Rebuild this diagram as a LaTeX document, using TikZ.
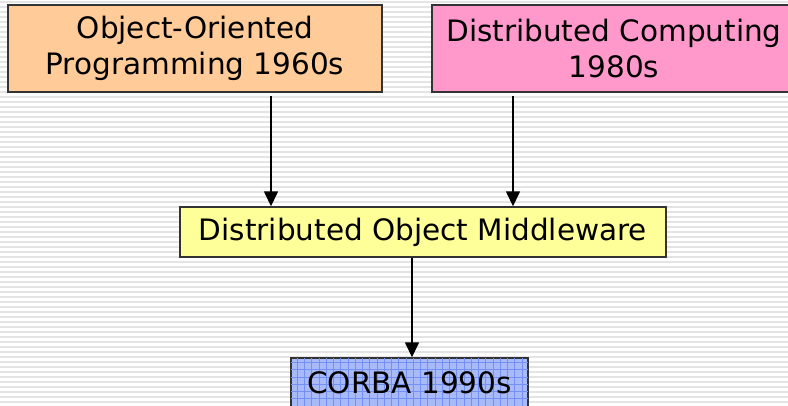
\documentclass[tikz,border=0pt]{standalone}
\usepackage{fontspec}
\setmainfont{DejaVu Sans}
\usetikzlibrary{arrows.meta}
\definecolor{stripegray}{HTML}{E4E4E4}
\definecolor{oopfill}{HTML}{FFCC99}
\definecolor{dcfill}{HTML}{FF99CC}
\definecolor{domfill}{HTML}{FFFF99}
\definecolor{corbafill}{HTML}{A8BAF8}
\definecolor{corbagrid}{HTML}{7390F2}
\definecolor{boxline}{HTML}{333333}
\tikzset{
  boxtext/.style={font=\fontsize{29.5}{36}\selectfont, text=black},
  box/.style={draw=boxline, line width=1.4pt, inner sep=0pt, align=center, boxtext},
  link/.style={line width=1.5pt, -{Triangle[width=14pt,length=15pt]}},
}
\begin{document}
\begin{tikzpicture}[x=1pt,y=-1pt]
  \useasboundingbox (0,0) rectangle (788,406);
  \clip (0,0) rectangle (788,406);
  % striped backdrop
  \fill[white] (0,0) rectangle (788,406);
  \foreach \y in {0,5,...,405}
    \fill[stripegray] (0,\y+1) rectangle (788,\y+3);

  % boxes
  \node[box, fill=oopfill, minimum width=374pt, minimum height=87pt]
    (oop) at (195,48.5) {Object-Oriented\\Programming 1960s};
  \node[box, fill=dcfill, minimum width=364pt, minimum height=87pt]
    (dc) at (614,48.5) {Distributed Computing\\1980s};
  \node[box, fill=domfill, minimum width=486pt, minimum height=50pt]
    (dom) at (423,232) {Distributed Object Middleware};
  \node[box, fill=corbafill, minimum width=237pt, minimum height=50pt]
    (corba) at (409.5,383) {};
  \begin{scope}
    \clip (corba.south west) rectangle (corba.north east);
    \draw[corbagrid, line width=0.7pt, xstep=7.25pt, ystep=7.25pt]
      (corba.south west) grid (corba.north east);
  \end{scope}
  \draw[boxline, line width=1.4pt] (corba.south west) rectangle (corba.north east);
  \node[boxtext, anchor=base] (corbatext) at (409.5,393) {CORBA 1990s};

  % connectors
  \coordinate (s1) at (271,96);
  \coordinate (s2) at (513,96);
  \coordinate (s3) at (412,258);
  \draw[link] (s1) -- (s1 |- dom.north);
  \draw[link] (s2) -- (s2 |- dom.north);
  \draw[link] (s3) -- (s3 |- corba.north);
\end{tikzpicture}
\end{document}
